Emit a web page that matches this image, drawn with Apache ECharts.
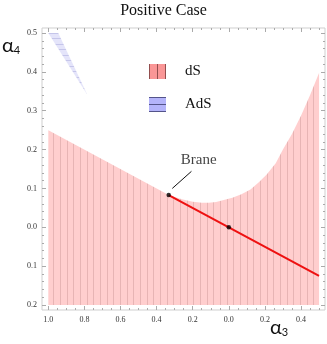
<!DOCTYPE html>
<html>
<head>
<meta charset="utf-8">
<script src="https://cdn.jsdelivr.net/npm/echarts@6/dist/echarts.min.js"></script>
<style>
  html, body { margin: 0; padding: 0; background: #fff; }
  #chart { width: 327px; height: 344px; }
</style>
</head>
<body>
<div id="chart"></div>
<script>
// Data
const xMajor = [-1.0, -0.8, -0.6, -0.4, -0.2, 0.0, 0.2, 0.4];
const yMajor = [-0.2, -0.1, 0.0, 0.1, 0.2, 0.3, 0.4, 0.5];

// dS region: straight edge on the left, then the curved upper boundary
const dsLeftEdge = [[-1.0, -0.2], [-1.0, 0.25], [-0.333, 0.083]];
const dsCurve = [
  [-0.26, 0.072], [-0.2, 0.066], [-0.15, 0.063], [-0.11, 0.063], [-0.07, 0.065],
  [0.02, 0.076], [0.07, 0.085], [0.12, 0.097], [0.165, 0.115], [0.21, 0.136],
  [0.26, 0.165], [0.3, 0.2], [0.35, 0.24], [0.4, 0.287], [0.45, 0.34], [0.5, 0.397]
];
const dsRightEdge = [[0.5, -0.2]];

// AdS sliver in the top-left corner
const adsRegion = [[-1.0, 0.5], [-0.945, 0.5], [-0.784, 0.341]];

const braneLine = [[-0.333, 0.083], [0.0, 0.0], [0.5, -0.125]];
const branePoints = [[-0.333, 0.083], [0.0, 0.0]];
const braneLabel = [[-0.167, 0.172]];
const braneArrow = [[-0.207, 0.144], [-0.313, 0.1]];

function minorValues(from, to, step) {
  const out = [];
  for (let v = from; v <= to + 1e-9; v += step) out.push(Math.round(v * 1000) / 1000);
  return out;
}
const xMinor = minorValues(-1.0, 0.5, 0.05);
const yMinor = minorValues(-0.2, 0.5, 0.02);

// Hatch patterns
function hatch(w, h, base, line, vertical, offsets) {
  const c = document.createElement('canvas');
  c.width = w; c.height = h;
  const g = c.getContext('2d');
  g.fillStyle = base;
  g.fillRect(0, 0, w, h);
  g.fillStyle = line;
  offsets.forEach(o => {
    if (vertical) g.fillRect(o, 0, 1, h);
    else g.fillRect(0, o, w, 1);
  });
  return c;
}
const dsPattern = hatch(20, 20, 'rgb(255,206,206)', 'rgba(175,120,120,0.3)', true, [0, 7, 13]);
const adsPattern = hatch(11, 11, 'rgb(228,228,250)', 'rgba(150,150,210,0.4)', false, [0, 5]);

function swatch(base, line, vertical) {
  const c = document.createElement('canvas');
  c.width = 17; c.height = 15;
  const g = c.getContext('2d');
  g.fillStyle = base;
  g.fillRect(0, 0, 17, 15);
  g.fillStyle = line;
  if (vertical) { g.fillRect(0, 0, 1, 15); g.fillRect(8, 0, 1, 15); g.fillRect(16, 0, 1, 15); }
  else { g.fillRect(0, 0, 17, 1); g.fillRect(0, 7, 17, 1); g.fillRect(0, 14, 17, 1); }
  return 'image://' + c.toDataURL();
}

const serif = '"Liberation Serif", "DejaVu Serif", serif';
const X_MIN = -1.035, X_MAX = 0.533, Y_MIN = -0.213, Y_MAX = 0.513;
const fmt = v => Math.abs(v).toFixed(1);

function xAxisCfg(position, values, len, labels) {
  return {
    type: 'value', position, min: X_MIN, max: X_MAX,
    axisLine: { show: false, onZero: false }, splitLine: { show: false },
    axisTick: { show: true, inside: true, length: len, customValues: values, lineStyle: { color: '#aaa', width: 1 } },
    axisLabel: labels
      ? { show: true, customValues: values, formatter: fmt, fontFamily: serif, fontSize: 8, color: '#333', margin: 6 }
      : { show: false }
  };
}
function yAxisCfg(position, values, len, labels) {
  return {
    type: 'value', position, min: Y_MIN, max: Y_MAX,
    axisLine: { show: false, onZero: false }, splitLine: { show: false },
    axisTick: { show: true, inside: true, length: len, customValues: values, lineStyle: { color: '#aaa', width: 1 } },
    axisLabel: labels
      ? { show: true, customValues: values, formatter: fmt, fontFamily: serif, fontSize: 8, color: '#333', margin: 5 }
      : { show: false }
  };
}

function polygonSeries(name, points, fill) {
  return {
    name, type: 'custom', xAxisIndex: 0, yAxisIndex: 0, silent: true, z: 1,
    data: [0],
    renderItem: (params, api) => ({
      type: 'polygon',
      shape: { points: points.map(p => api.coord(p)) },
      style: { fill: { image: fill, repeat: 'repeat' }, stroke: null }
    })
  };
}

const greek = 'Lato, "Noto Sans", sans-serif';
const chart = echarts.init(document.getElementById('chart'), null, { renderer: 'canvas' });
chart.setOption({
  animation: false,
  backgroundColor: '#fff',
  title: {
    text: 'Positive Case', left: 'center', top: -2,
    textStyle: { fontFamily: serif, fontSize: 16, fontWeight: 'normal', color: '#111' }
  },
  grid: { left: 42, right: 2, top: 28, bottom: 34, show: true, borderColor: '#cfcfcf', borderWidth: 1, backgroundColor: 'transparent' },
  xAxis: [
    xAxisCfg('bottom', xMajor, 4, true),
    xAxisCfg('bottom', xMinor, 2, false),
    xAxisCfg('top', xMajor, 4, false),
    xAxisCfg('top', xMinor, 2, false)
  ],
  yAxis: [
    yAxisCfg('left', yMajor, 4, true),
    yAxisCfg('left', yMinor, 2, false),
    yAxisCfg('right', yMajor, 4, false),
    yAxisCfg('right', yMinor, 2, false)
  ],
  legend: {
    orient: 'vertical', left: 144, top: 59,
    itemWidth: 17, itemHeight: 15, itemGap: 18,
    textStyle: { fontFamily: serif, fontSize: 15, color: '#111', padding: [0, 0, 0, 14] },
    data: [
      { name: 'dS', icon: swatch('rgb(250,150,150)', 'rgba(120,60,60,0.8)', true) },
      { name: 'AdS', icon: swatch('rgb(180,180,250)', 'rgba(60,60,110,0.8)', false) }
    ]
  },
  graphic: [
    {
      type: 'text', left: 2, top: 36,
      style: { text: '{a|α}{s|4}', rich: { a: { fontFamily: greek, fontSize: 20, fill: '#111' }, s: { fontFamily: greek, fontSize: 11, fill: '#111', verticalAlign: 'bottom', padding: [8, 0, 0, 0] } } }
    },
    {
      type: 'text', left: 270, top: 318,
      style: { text: '{a|α}{s|3}', rich: { a: { fontFamily: greek, fontSize: 20, fill: '#111' }, s: { fontFamily: greek, fontSize: 11, fill: '#111', verticalAlign: 'bottom', padding: [8, 0, 0, 0] } } }
    }
  ],
  series: [
    polygonSeries('dS', dsLeftEdge.concat(dsCurve, dsRightEdge), dsPattern),
    polygonSeries('AdS', adsRegion, adsPattern),
    {
      name: 'brane', type: 'line', data: braneLine, z: 3,
      symbol: 'none', lineStyle: { color: '#ee1111', width: 2 },
      markLine: {
        silent: true, symbol: ['none', 'arrow'], symbolSize: [0, 8],
        lineStyle: { color: '#111', width: 1, type: 'solid' },
        label: { show: false },
        data: [[{ coord: braneArrow[0] }, { coord: braneArrow[1] }]]
      }
    },
    {
      name: 'points', type: 'scatter', data: branePoints, z: 4,
      symbolSize: 4.5, itemStyle: { color: '#000' }
    },
    {
      name: 'label', type: 'scatter', data: braneLabel, z: 4,
      symbolSize: 0,
      label: { show: true, position: 'inside', formatter: 'Brane', fontFamily: serif, fontSize: 15, color: '#111' }
    }
  ]
});
</script>
</body>
</html>
